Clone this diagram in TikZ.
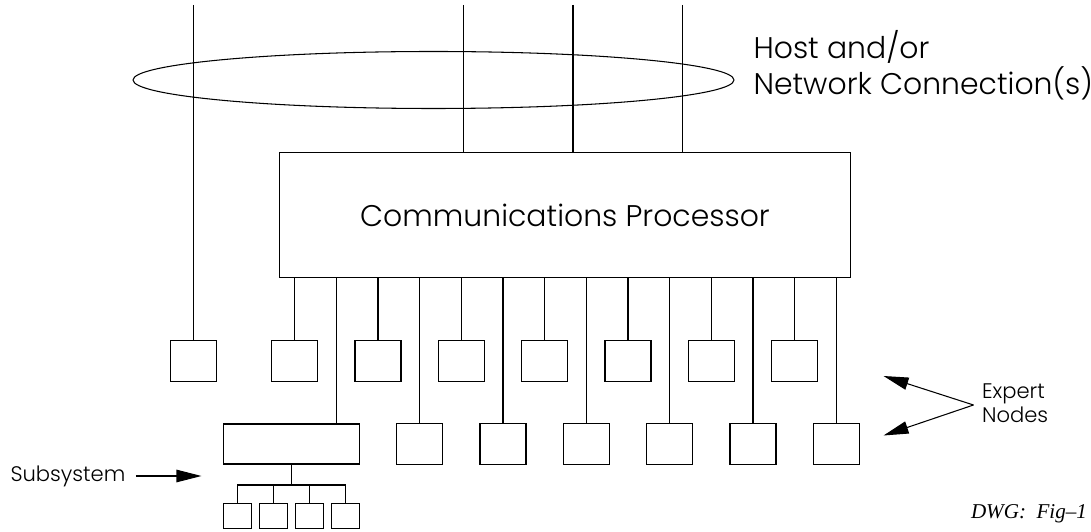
\documentclass[tikz,border=0pt]{standalone}
\usepackage{fontspec}
\newfontfamily\cadfont{Poppins Light}
\newfontfamily\dwgfont{Liberation Serif}
\usetikzlibrary{arrows.meta}
\begin{document}
\begin{tikzpicture}[line width=0.6pt]

\tikzstyle{box1}=[rectangle, draw, inner sep=0pt, minimum width=0.92cm, minimum height=0.81cm]
\tikzstyle{box2}=[rectangle, draw, inner sep=0pt, minimum width=0.56cm, minimum height=0.5cm]
\tikzstyle{box3}=[rectangle, draw, inner sep=0pt, minimum width=11.41cm, minimum height=2.49cm, font=\cadfont\fontsize{17}{20}\selectfont]
\tikzstyle{sub}=[rectangle, draw, inner sep=0pt, minimum width=2.72cm, minimum height=0.8cm]
\tikzstyle{label1}=[inner sep=0pt, align=left, font=\cadfont\fontsize{17}{20.4}\selectfont]
\tikzstyle{label2}=[inner sep=0pt, align=left, font=\cadfont\fontsize{12}{13.6}\selectfont]
\tikzstyle{arrow}=[-{Triangle[length=0.5cm,width=0.25cm]}]

\useasboundingbox (0,0) rectangle (21.82,10.62);

% host / network ring
\draw (8.67,9.02) ellipse (6.01cm and 0.57cm);
\node (C) [label1, anchor=west] at (15.06,9.32) {Host and/or\\Network Connection(s)};

\node (P) [box3] at (11.3,6.32) {Communications Processor};

\coordinate (T1) at (3.87,10.52);
\coordinate (T2) at (9.27,10.52);
\coordinate (T3) at (11.46,10.52);
\coordinate (T4) at (13.65,10.52);

% upper row of nodes
\node (N1) [box1] at (3.87,3.4) {};
\node (N2) [box1] at (5.89,3.4) {};
\node (N3) [box1] at (7.56,3.4) {};
\node (N4) [box1] at (9.23,3.4) {};
\node (N5) [box1] at (10.89,3.4) {};
\node (N6) [box1] at (12.56,3.4) {};
\node (N7) [box1] at (14.23,3.4) {};
\node (N8) [box1] at (15.89,3.4) {};

% lower row of nodes
\node (M1) [box1] at (8.39,1.74) {};
\node (M2) [box1] at (10.06,1.74) {};
\node (M3) [box1] at (11.73,1.74) {};
\node (M4) [box1] at (13.39,1.74) {};
\node (M5) [box1] at (15.06,1.74) {};
\node (M6) [box1] at (16.73,1.74) {};

% subsystem
\node (S) [sub] at (5.83,1.74) {};
\coordinate (s) at (6.73,1.74);
\coordinate (B) at (5.83,0.92);
\node (S1) [box2] at (4.75,0.3) {};
\node (S2) [box2] at (5.47,0.3) {};
\node (S3) [box2] at (6.19,0.3) {};
\node (S4) [box2] at (6.91,0.3) {};

\draw (T1) -- (N1);
\draw (T2) -- (T2 |- P.north);
\draw (T3) -- (T3 |- P.north);
\draw (T4) -- (T4 |- P.north);

\draw (P.south -| N2) -- (N2);
\draw (P.south -| N3) -- (N3);
\draw (P.south -| N4) -- (N4);
\draw (P.south -| N5) -- (N5);
\draw (P.south -| N6) -- (N6);
\draw (P.south -| N7) -- (N7);
\draw (P.south -| N8) -- (N8);

\draw (P.south -| s) -- (S.north -| s);
\draw (P.south -| M1) -- (M1);
\draw (P.south -| M2) -- (M2);
\draw (P.south -| M3) -- (M3);
\draw (P.south -| M4) -- (M4);
\draw (P.south -| M5) -- (M5);
\draw (P.south -| M6) -- (M6);

\draw (S) -- (B);
\draw (S1) -- (S1 |- B) -- (S4 |- B) -- (S4);
\draw (S2) -- (S2 |- B);
\draw (S3) -- (S3 |- B);

\node (L) [label2, anchor=west] at (0.2,1.1) {Subsystem};
\draw [arrow, shorten <=0.2cm, shorten >=0.43cm] (L) -- (L -| S.west);

\node (E) [label2, anchor=west] at (19.63,2.56) {Expert\\Nodes};
\coordinate (A) at (19.47,2.52);
\coordinate (E1) at (17.67,3.1);
\coordinate (E2) at (17.67,1.91);
\draw [arrow] (A) -- (E1);
\draw [arrow] (A) -- (E2);

\node (D) [anchor=base east, inner sep=0pt, font=\dwgfont\itshape\fontsize{12}{14}\selectfont] at (21.75,0.25) {DWG:\ \ Fig\textendash 1};

\end{tikzpicture}
\end{document}
